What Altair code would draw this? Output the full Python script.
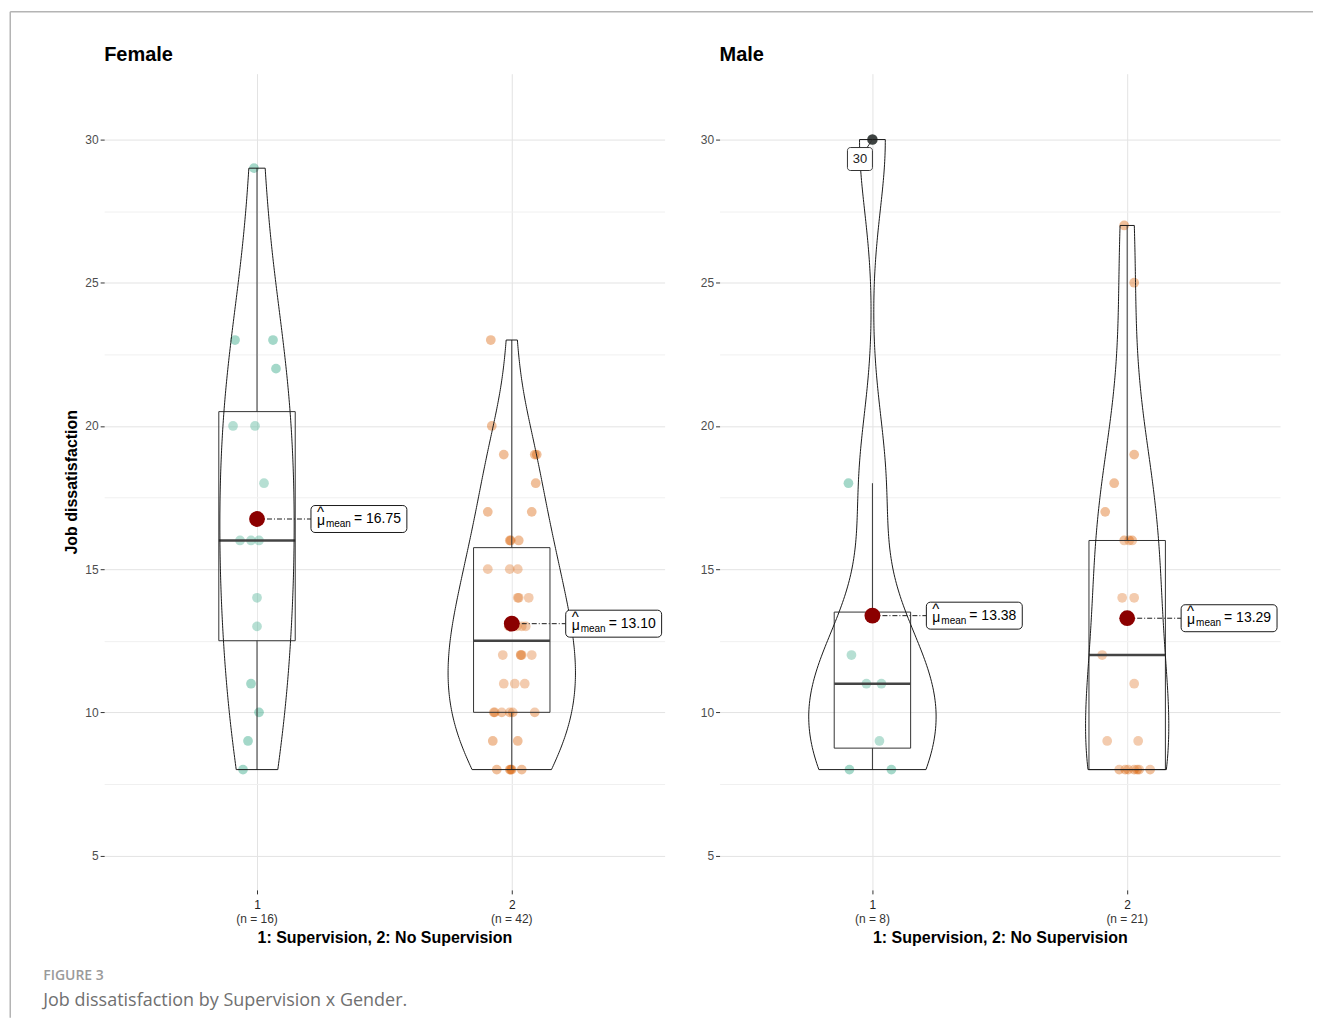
import altair as alt
import pandas as pd

# ---------------- data ----------------
GENDERS = ["Female", "Male"]
GROUPS = [1, 2]
X_TITLE = "1: Supervision, 2: No Supervision"
Y_TITLE = "Job dissatisfaction"
CAPTION_HEAD = "FIGURE 3"
CAPTION_TEXT = "Job dissatisfaction by Supervision x Gender."
Y_TICKS = [5, 7.5, 10, 12.5, 15, 17.5, 20, 22.5, 25, 27.5, 30]

female_sup = [29, 23, 23, 22, 20, 20, 18, 16, 16, 16, 14, 13, 11, 10, 9, 8]
female_sup_jitter = [-3, -22, 16, 19, -24, -2, 7, -17, -6, 2, 0, 0, -6, 2, -9, -14]

female_nosup = [23, 20, 19, 19, 19, 18, 17, 17, 16, 16, 16, 15, 15, 15, 14, 14, 14,
                13, 13, 13, 13, 12, 12, 12, 12, 12, 11, 11, 11, 10, 10, 10, 10, 10, 10,
                9, 9, 8, 8, 8, 8, 8]
female_nosup_jitter = [-21, -20, -8, 23, 25, 24, -24, 20, -2, -1, 7, -24, -2, 6, 6, 7, 17,
                       10, 14, -3, 5, -9, 9, 10, 20, 9, -8, 3, 13, -18, -17, -10, -2, 23, 1,
                       -19, 6, -15, -1, 0, 10, -2]

male_sup = [30, 18, 12, 11, 11, 9, 8, 8]
male_sup_jitter = [0, -24, -21, -6, 9, 7, -23, 19]

male_nosup = [27, 25, 19, 18, 17, 16, 16, 16, 14, 14, 12, 11, 9, 9, 8, 8, 8, 8, 8, 8, 8]
male_nosup_jitter = [-3, 7, 7, -13, -22, -3, 2, 5, -5, 7, -25, 7, -20, 11, -8, -2, 1, 7, 10, 12, 23]

records = []
for gender, group, vals, jit in [
    ("Female", 1, female_sup, female_sup_jitter),
    ("Female", 2, female_nosup, female_nosup_jitter),
    ("Male", 1, male_sup, male_sup_jitter),
    ("Male", 2, male_nosup, male_nosup_jitter),
]:
    assert len(vals) == len(jit)
    for v, j in zip(vals, jit):
        records.append({"gender": gender, "group": group, "value": v, "jit": j})
df = pd.DataFrame(records)

# ---------------- layout ----------------
W = 561
H = 817
XMIN, XMAX = 0.4, 2.6
YMIN, YMAX = 3.8, 32.3
PXU = W / (XMAX - XMIN)

FONT = "Liberation Sans"
XS = alt.Scale(domain=[XMIN, XMAX], nice=False, zero=False)
YS = alt.Scale(domain=[YMIN, YMAX], nice=False, zero=False)

XA = alt.Axis(values=GROUPS, grid=True, gridColor="#E3E3E3", gridWidth=1, domain=False,
              ticks=True, tickColor="#333333", tickSize=4, labelColor="#222222",
              labelFontSize=12, labelPadding=6, labelFont=FONT,
              title=X_TITLE, titleFontSize=16, titleFontWeight="bold", titleColor="black",
              titlePadding=19, titleFont=FONT)


def y_axis(with_title):
    kw = dict(values=Y_TICKS, grid=True,
              gridColor={"condition": {"test": "datum.value % 5 === 0", "value": "#E3E3E3"},
                         "value": "#F0F0F0"},
              gridWidth=1, domain=False,
              tickOpacity={"condition": {"test": "datum.value % 5 === 0", "value": 1}, "value": 0},
              tickColor="#333333", tickSize=4,
              labelExpr="datum.value % 5 === 0 ? datum.label : ''",
              labelOverlap=False, labelColor="#4D4D4D", labelFontSize=12, labelPadding=2,
              labelFont=FONT)
    if with_title:
        kw.update(title=Y_TITLE, titleFontSize=16, titleFontWeight="bold", titleColor="black",
                  titlePadding=5, titleFont=FONT)
    else:
        kw.update(title=None)
    return alt.Axis(**kw)


def panel(gender, first):
    YA = y_axis(first)

    def ex(f):
        return alt.X(f, type="quantitative", scale=XS, axis=XA)

    def ey(f):
        return alt.Y(f, type="quantitative", scale=YS, axis=YA)

    base = alt.Chart(df).transform_filter(alt.datum.gender == gender)

    points = base.transform_calculate(
        xj=f"datum.group + datum.jit / {PXU}"
    ).mark_circle(size=95, opacity=0.4).encode(
        x=ex("xj"), y=ey("value"),
        color=alt.Color("group:N", scale=alt.Scale(domain=GROUPS, range=["#1B9E77", "#D95F02"]),
                        legend=None),
    )

    stats = base.transform_joinaggregate(
        q1="q1(value)", q3="q3(value)", groupby=["group"]
    ).transform_calculate(
        lo="datum.q1 - 1.5 * (datum.q3 - datum.q1)",
        hi="datum.q3 + 1.5 * (datum.q3 - datum.q1)",
    )

    box_base = base.transform_aggregate(
        q1="q1(value)", med="median(value)", q3="q3(value)", groupby=["group"]
    ).transform_calculate(xl="datum.group - 0.15", xr="datum.group + 0.15")

    box = box_base.mark_rect(fill="white", fillOpacity=0.2, stroke="#333333", strokeWidth=1).encode(
        x=ex("xl"), x2=alt.X2("xr"), y=ey("q1"), y2=alt.Y2("q3"))
    median = box_base.mark_rule(color="#444444", strokeWidth=2.4).encode(
        x=ex("xl"), x2=alt.X2("xr"), y=ey("med"))

    whisk_base = stats.transform_filter(
        "datum.value >= datum.lo && datum.value <= datum.hi"
    ).transform_aggregate(
        wmin="min(value)", wmax="max(value)", q1="min(q1)", q3="min(q3)", groupby=["group"]
    )
    whisk_lo = whisk_base.mark_rule(color="#333333", strokeWidth=1).encode(
        x=ex("group"), y=ey("wmin"), y2=alt.Y2("q1"))
    whisk_hi = whisk_base.mark_rule(color="#333333", strokeWidth=1).encode(
        x=ex("group"), y=ey("q3"), y2=alt.Y2("wmax"))

    outl_base = stats.transform_filter("datum.value < datum.lo || datum.value > datum.hi")
    outliers = outl_base.mark_circle(size=110, color="#333333", opacity=0.9).encode(
        x=ex("group"), y=ey("value"))
    outl_line = outl_base.mark_rule(color="#333333", strokeWidth=1, x2Offset=-6, y2Offset=9).encode(
        x=ex("group"), x2=alt.X2("group"), y=ey("value"), y2=alt.Y2("value"))
    outl_box = outl_base.mark_rect(fill="white", stroke="#333333", strokeWidth=1, cornerRadius=3,
                                   xOffset=-25, x2Offset=0, yOffset=8, y2Offset=31).encode(
        x=ex("group"), x2=alt.X2("group"), y=ey("value"), y2=alt.Y2("value"))
    outl_text = outl_base.transform_calculate(lab="'' + datum.value").mark_text(
        font=FONT, fontSize=13, color="#222222", dx=-12.5, dy=19.5, baseline="middle", align="center"
    ).encode(x=ex("group"), y=ey("value"), text="lab:N")

    violin = base.transform_density(
        "value", groupby=["group"], as_=["v", "dens"], resolve="independent", steps=200
    ).transform_joinaggregate(
        maxd="max(dens)"
    ).transform_calculate(
        xl="datum.group - 0.25 * datum.dens / datum.maxd",
        xr="datum.group + 0.25 * datum.dens / datum.maxd",
    ).mark_area(orient="horizontal", fill="white", fillOpacity=0, stroke="#1a1a1a",
                strokeWidth=1).encode(
        y=ey("v"), x=alt.X("xl", type="quantitative", scale=XS, axis=XA, stack=None),
        x2=alt.X2("xr"), detail="group:N")

    mean_base = base.transform_aggregate(
        m="mean(value)", groupby=["group"]
    ).transform_calculate(lab="'= ' + format(datum.m, '.2f')")

    mean_line = mean_base.mark_rule(color="#1a1a1a", strokeWidth=1, strokeDash=[5, 2, 1, 2],
                                    x2Offset=54).encode(
        x=ex("group"), x2=alt.X2("group"), y=ey("m"))
    mean_pt = mean_base.mark_circle(size=250, color="#8B0000", opacity=1).encode(
        x=ex("group"), y=ey("m"))
    mean_box = mean_base.mark_rect(fill="white", stroke="#1a1a1a", strokeWidth=1, cornerRadius=4,
                                   xOffset=54, x2Offset=150, yOffset=-13.5, y2Offset=13.5).encode(
        x=ex("group"), x2=alt.X2("group"), y=ey("m"), y2=alt.Y2("m"))
    mu = mean_base.mark_text(text="μ", font=FONT, fontSize=14, color="black", align="left",
                             baseline="middle", dx=60, dy=2).encode(x=ex("group"), y=ey("m"))
    hat = mean_base.mark_text(text="^", font=FONT, fontSize=15, color="black", align="left",
                              baseline="middle", dx=60, dy=-7).encode(x=ex("group"), y=ey("m"))
    sub = mean_base.mark_text(text="mean", font=FONT, fontSize=10, color="black", align="left",
                              baseline="middle", dx=69, dy=5).encode(x=ex("group"), y=ey("m"))
    val = mean_base.mark_text(font=FONT, fontSize=14, color="black", align="left",
                              baseline="middle", dx=97, dy=0).encode(
        x=ex("group"), y=ey("m"), text="lab:N")

    nlab = base.transform_aggregate(
        n="count()", groupby=["group"]
    ).transform_calculate(nl="'(n = ' + datum.n + ')'").mark_text(
        font=FONT, fontSize=12, color="#333333", baseline="middle"
    ).encode(x=ex("group"), y=alt.value(H + 29), text="nl:N")

    ptitle = alt.Chart(pd.DataFrame({"t": [gender]})).mark_text(
        font=FONT, fontSize=20, fontWeight="bold", color="black", align="left",
        baseline="middle").encode(x=alt.value(0), y=alt.value(-19), text="t:N")

    layers = [points, box, median, whisk_lo, whisk_hi, outliers, violin,
              mean_line, mean_pt, mean_box, mu, hat, sub, val, nlab,
              outl_line, outl_box, outl_text, ptitle]

    if first:
        one = pd.DataFrame({"k": [0]})
        top_line = alt.Chart(one).mark_rule(color="#B4B4B4", strokeWidth=1.5).encode(
            x=alt.value(-94), x2=alt.value(1210), y=alt.value(-62))
        left_line = alt.Chart(one).mark_rule(color="#B4B4B4", strokeWidth=1.5).encode(
            x=alt.value(-94), y=alt.value(-62), y2=alt.value(945))
        cap1 = alt.Chart(pd.DataFrame({"t": [CAPTION_HEAD]})).mark_text(
            font="Open Sans", fontSize=14, fontWeight=600, color="#9A9A9A", align="left",
            baseline="middle").encode(x=alt.value(-61), y=alt.value(903), text="t:N")
        cap2 = alt.Chart(pd.DataFrame({"t": [CAPTION_TEXT]})).mark_text(
            font="Open Sans", fontSize=18, color="#707070", align="left",
            baseline="middle").encode(x=alt.value(-61), y=alt.value(928), text="t:N")
        layers += [top_line, left_line, cap1, cap2]

    return alt.layer(*layers).properties(width=W, height=H)


chart = alt.hconcat(
    panel("Female", True), panel("Male", False), spacing=55, bounds="flush"
).properties(
    padding={"left": 1.25, "top": 2.25, "right": 0, "bottom": 0},
    background="white",
).configure(font=FONT).configure_view(stroke=None)

chart.save("out.html", embed_options={"renderer": "svg", "actions": False})
